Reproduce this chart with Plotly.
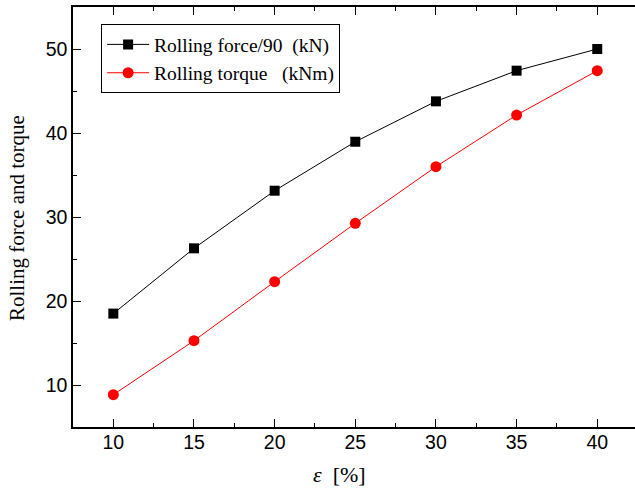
import plotly.graph_objects as go

strain = [10, 15, 20, 25, 30, 35, 40]
force_over_90 = [18.5, 26.27, 33.13, 38.96, 43.77, 47.42, 50.0]
torque = [8.85, 15.27, 22.3, 29.25, 35.99, 42.14, 47.42]

x_ticks = [10, 15, 20, 25, 30, 35, 40]
y_ticks = [10, 20, 30, 40, 50]

SERIF = "Liberation Serif, Times New Roman, serif"
SANS = "Liberation Sans, Arial, sans-serif"
NB = "\u00a0"

fig = go.Figure()
fig.add_trace(go.Scatter(
    x=strain, y=force_over_90, mode="lines+markers",
    name="Rolling force/90" + NB * 2 + "(kN)",
    line=dict(color="black", width=1),
    marker=dict(symbol="square", size=10, color="black"),
))
fig.add_trace(go.Scatter(
    x=strain, y=torque, mode="lines+markers",
    name="Rolling torque" + NB * 3 + "(kNm)",
    line=dict(color="red", width=1),
    marker=dict(symbol="circle", size=11, color="red"),
))

fig.update_layout(
    width=635, height=492,
    margin=dict(l=73, r=0, t=7, b=65, autoexpand=False),
    plot_bgcolor="white", paper_bgcolor="white",
    showlegend=True,
    legend=dict(
        x=0.05, y=0.959, xanchor="left", yanchor="top",
        bordercolor="black", borderwidth=1, bgcolor="white",
        font=dict(family=SERIF, size=19.5, color="black"),
        itemwidth=42, tracegroupgap=0,
    ),
    annotations=[
        dict(text="<i>ε</i>" + NB * 2 + "[%]", xref="paper", yref="paper",
             x=(339 - 73) / 562, y=-(474 - 427) / 420, xanchor="center", yanchor="middle",
             showarrow=False, font=dict(family=SERIF, size=22, color="black")),
        dict(text="Rolling force and torque", xref="paper", yref="paper",
             x=-(73 - 17) / 562, y=(427 - 218) / 420, xanchor="center", yanchor="middle",
             textangle=-90, showarrow=False, font=dict(family=SERIF, size=21, color="black")),
    ],
)
fig.update_xaxes(
    range=[7.5, 42.34], tickvals=x_ticks,
    showgrid=False, zeroline=False, automargin=False,
    showline=True, linecolor="black", linewidth=1.5, mirror="ticks",
    ticks="inside", ticklen=8, tickwidth=1.3, tickcolor="black",
    ticklabelstandoff=-3,
    minor=dict(dtick=2.5, tick0=7.5, ticks="inside", ticklen=4, tickwidth=1.3, tickcolor="black", showgrid=False),
    tickfont=dict(family=SANS, size=19.5, color="black"),
)
fig.update_yaxes(
    range=[5, 55], tickvals=y_ticks,
    showgrid=False, zeroline=False, automargin=False,
    showline=True, linecolor="black", linewidth=1.5, mirror=False,
    ticks="inside", ticklen=8, tickwidth=1.3, tickcolor="black",
    minor=dict(dtick=5, tick0=5, ticks="inside", ticklen=4, tickwidth=1.3, tickcolor="black", showgrid=False),
    tickfont=dict(family=SANS, size=19.5, color="black"),
)

fig.write_html(
    "out.html",
    config=dict(displayModeBar=False),
    post_script="document.body.style.margin='0';document.body.style.padding='0';document.body.style.overflow='hidden';",
)
